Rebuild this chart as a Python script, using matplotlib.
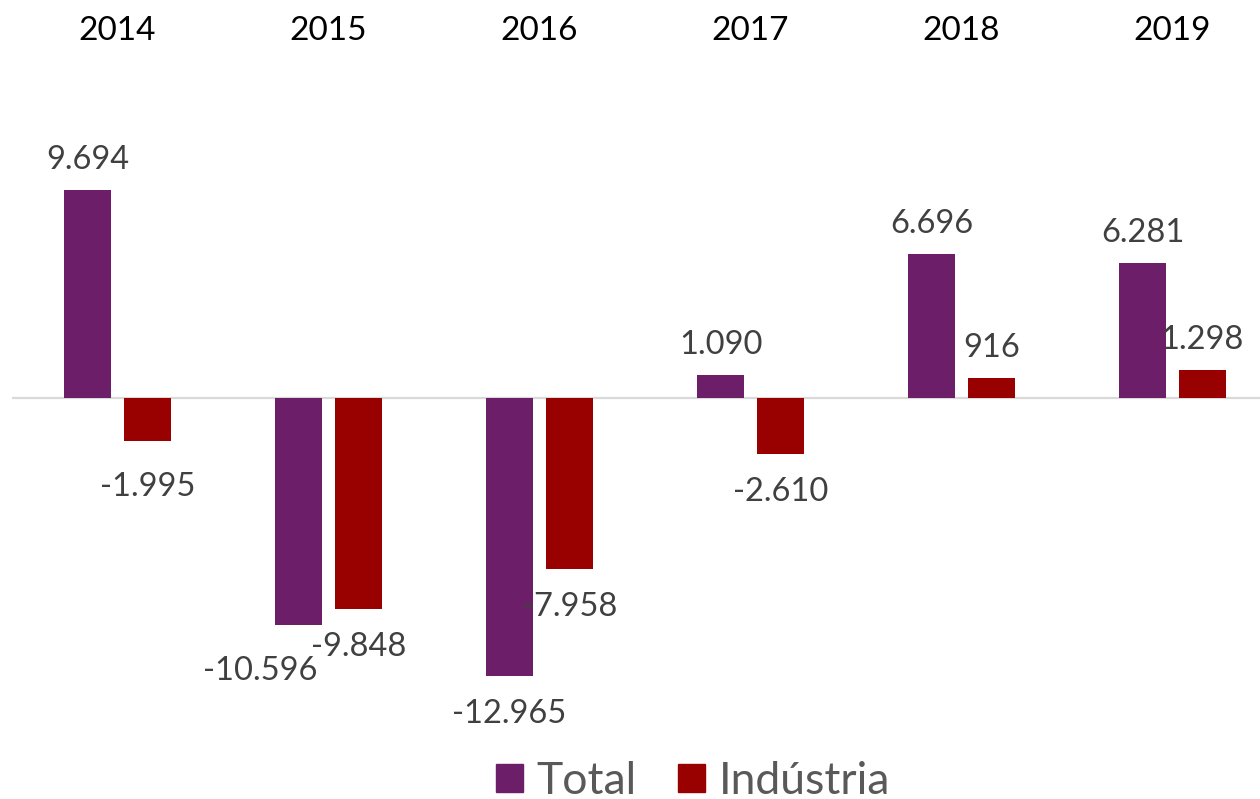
import matplotlib.pyplot as plt
import matplotlib.transforms as mtransforms
from matplotlib.patches import Patch
import numpy as np

plt.rcParams['font.family'] = ['Lato', 'DejaVu Sans']

years = ['2014', '2015', '2016', '2017', '2018', '2019']
total = [9694, -10596, -12965, 1090, 6696, 6281]
industria = [-1995, -9848, -7958, -2610, 916, 1298]

PURPLE = '#6D1E69'
RED = '#990000'

W, H, DPI = 1260, 799, 100
fig = plt.figure(figsize=(W / DPI, H / DPI), dpi=DPI)

# axes placed in pixel units; zero line at y=398
ax_left, ax_right = 12, 1278
ax_top, ax_bottom = 60, 740
ax = fig.add_axes([ax_left / W, 1 - ax_bottom / H,
                   (ax_right - ax_left) / W, (ax_bottom - ax_top) / H])
px_per_unit = 208 / 9694
ax.set_ylim(-(ax_bottom - 398) / px_per_unit, (398 - ax_top) / px_per_unit)
ax.set_xlim(-0.5, len(years) - 0.5)

x = np.arange(len(years))
bw = 0.223
off = 0.142
ax.bar(x - off, total, bw, color=PURPLE, zorder=3)
ax.bar(x + off, industria, bw, color=RED, zorder=3)
ax.axhline(0, color='#D9D9D9', lw=1.6, zorder=2)

for s in ax.spines.values():
    s.set_visible(False)
ax.set_xticks([])
ax.set_yticks([])

# a couple of labels were dragged by hand (dx, dy in pixels)
nudge = {('t', 1): (-38, -8), ('i', 0): (0, -8)}


def fmt(v):
    return f'{v:,}'.replace(',', '.')


for key, xs, vals in (('t', x - off, total), ('i', x + off, industria)):
    for i, (xi, v) in enumerate(zip(xs, vals)):
        dx, dy = nudge.get((key, i), (0, 0))
        dy_base = 21 if v >= 0 else -47
        ax.annotate(fmt(v), (xi, v), xytext=(dx, dy_base + dy),
                    textcoords='offset pixels', ha='center', va='baseline',
                    fontsize=23.5, color='#404040', zorder=4)

# year names across the top, x in data units, y in figure units
top_trans = mtransforms.blended_transform_factory(ax.transData, fig.transFigure)
for xi, yr in zip(x, years):
    ax.text(xi, 1 - 40 / H, yr, transform=top_trans,
            ha='center', va='baseline', fontsize=24, color='black')

handles = [Patch(color=PURPLE, label='Total'), Patch(color=RED, label='Indústria')]
fig.legend(handles=handles, loc='center', bbox_to_anchor=(693 / W, 1 - 781 / H),
           ncol=2, frameon=False, fontsize=32, labelcolor='#595959',
           handlelength=0.6, handleheight=0.6, handletextpad=0.3,
           columnspacing=0.95, borderpad=0, borderaxespad=0)

fig.savefig('out.png', dpi=DPI)
